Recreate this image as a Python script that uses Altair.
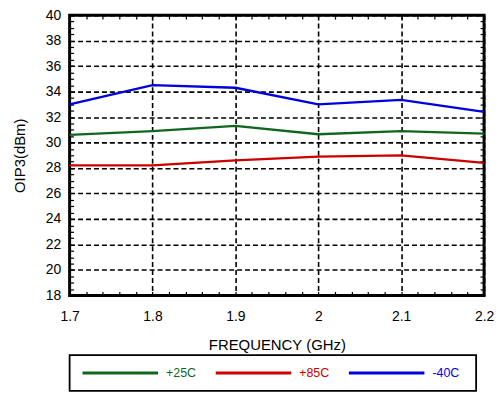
import altair as alt
import pandas as pd

# ---- data ----
freq = [1.7, 1.8, 1.9, 2.0, 2.1, 2.2]
oip3_p25 = [30.6, 30.9, 31.3, 30.65, 30.9, 30.7]
oip3_p85 = [28.2, 28.2, 28.6, 28.9, 29.0, 28.4]
oip3_m40 = [33.0, 34.5, 34.3, 33.0, 33.35, 32.4]
series = ["+25C", "+85C", "-40C"]
colors = ["#11661f", "#cc0000", "#0000dd"]

x_ticks = [1.7, 1.8, 1.9, 2.0, 2.1, 2.2]
y_ticks = list(range(18, 41, 2))
x_minor = [round(1.7 + 0.02 * i, 2) for i in range(26)]
y_minor = [18 + 0.5 * i for i in range(45)]

rows = []
for name, vals in zip(series, [oip3_p25, oip3_p85, oip3_m40]):
    for f, v in zip(freq, vals):
        rows.append({"freq": f, "oip3": v, "series": name})
df = pd.DataFrame(rows)

FONT = "Liberation Sans"
xscale = alt.Scale(domain=[1.7, 2.2], nice=False, zero=False)
yscale = alt.Scale(domain=[18, 40], nice=False, zero=False)
color = alt.Color("series:N", scale=alt.Scale(domain=series, range=colors), legend=None)

grid_style = dict(grid=True, gridColor="black", gridDash=[5, 3], gridWidth=1.6, gridOpacity=1,
                  ticks=False, domain=False, labelFlush=False, labelFont=FONT, labelFontSize=14,
                  labelColor="black", titleFont=FONT, titleFontSize=15, titleFontWeight="normal",
                  titleColor="black")

base = alt.Chart(df)

main_lines = base.mark_line(strokeWidth=2.3).encode(
    x=alt.X("freq:Q", scale=xscale,
            axis=alt.Axis(values=x_ticks, format="~g", title="FREQUENCY (GHz)",
                          labelPadding=14, titlePadding=14, **grid_style)),
    y=alt.Y("oip3:Q", scale=yscale,
            axis=alt.Axis(values=y_ticks, format="d", title="OIP3(dBm)",
                          labelPadding=9, titlePadding=18, **grid_style)),
    color=color,
)


def minor_axis(orient, vals):
    return alt.Axis(orient=orient, values=vals, labels=False, ticks=True, tickSize=4,
                    tickColor="black", tickWidth=1.2, domain=False, grid=False,
                    title=None, offset=-4)


minor_tr = base.mark_line(strokeOpacity=0).encode(
    x=alt.X("freq:Q", scale=xscale, axis=minor_axis("top", x_minor)),
    y=alt.Y("oip3:Q", scale=yscale, axis=minor_axis("right", y_minor)),
    detail="series:N",
)
minor_bl = base.mark_line(strokeOpacity=0).encode(
    x=alt.X("freq:Q", scale=xscale, axis=minor_axis("bottom", x_minor)),
    y=alt.Y("oip3:Q", scale=yscale, axis=minor_axis("left", y_minor)),
    detail="series:N",
)

main = alt.layer(main_lines, minor_tr, minor_bl).resolve_axis(
    x="independent", y="independent"
).properties(width=417, height=282, view=alt.ViewBackground(stroke="black", strokeWidth=3))

# ---- legend box drawn as its own small chart ----
leg_df = pd.DataFrame({"series": series, "idx": list(range(len(series)))})
leg_x = alt.Scale(domain=[-13 / 134, 396 / 134], nice=False, zero=False)
leg_base = alt.Chart(leg_df).transform_calculate(
    x0="datum.idx", x1="datum.idx + 0.567", xt="datum.idx + 0.627"
)
leg_rule = leg_base.mark_rule(strokeWidth=3).encode(
    x=alt.X("x0:Q", scale=leg_x, axis=None), x2="x1:Q", color=color
)
leg_text = leg_base.mark_text(align="left", baseline="middle", fontSize=12.5, font=FONT).encode(
    x=alt.X("xt:Q", scale=leg_x, axis=None), text="series:N", color=color
)
legend = alt.layer(leg_rule, leg_text).properties(
    width=409, height=36, view=alt.ViewBackground(stroke="black", strokeWidth=1.8)
)

chart = alt.vconcat(main, legend, spacing=60, bounds="flush").properties(
    padding={"left": 2, "top": -3, "right": 0, "bottom": 0}
)

chart.save("out.html", embed_options={"renderer": "svg", "actions": False})
